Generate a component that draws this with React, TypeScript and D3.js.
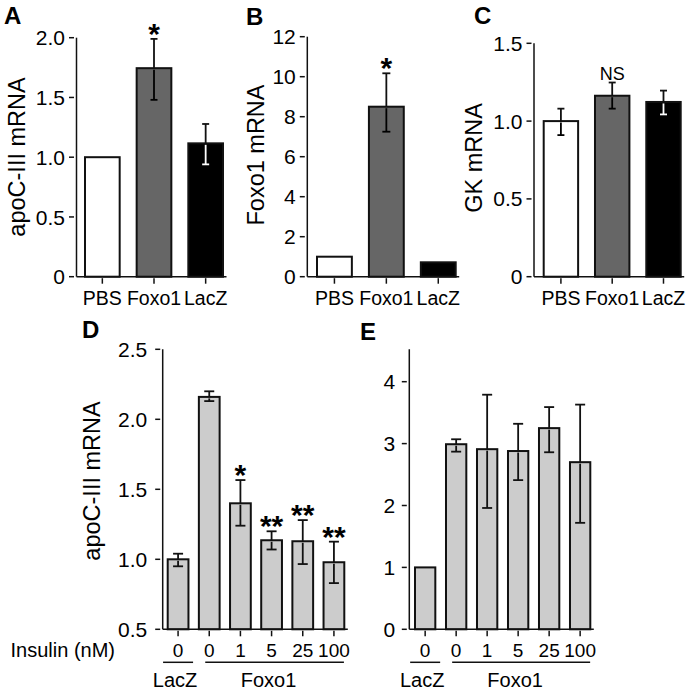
import React from "react";
import * as d3 from "d3";

// ---------- data ----------
const groupsABC = ["PBS", "Foxo1", "LacZ"];
const fillsABC = ["#ffffff", "#666666", "#000000"];
const innerABC = ["#000000", "#000000", "#ffffff"];

const apoMeanA = [1.0, 1.745, 1.116];
const apoErrHiA = [0, 0.245, 0.162];
const apoErrLoA = [0, 0.265, 0.176];
const sigA = ["", "*", ""];
const ticksA = [0, 0.5, 1, 1.5, 2];

const foxoMeanB = [1.0, 8.5, 0.72];
const foxoErrHiB = [0, 1.67, 0];
const foxoErrLoB = [0, 1.25, 0];
const sigB = ["", "*", ""];
const ticksB = [0, 2, 4, 6, 8, 10, 12];

const gkMeanC = [1.0, 1.163, 1.123];
const gkErrHiC = [0.08, 0.085, 0.073];
const gkErrLoC = [0.09, 0.083, 0.08];
const sigC = ["", "NS", ""];
const ticksC = [0, 0.5, 1, 1.5];

const insulinDoses = ["0", "0", "1", "5", "25", "100"];
const vectorGroups = ["LacZ", "Foxo1"];

const apoMeanD = [1.0, 2.16, 1.4, 1.136, 1.129, 0.979];
const apoErrHiD = [0.04, 0.04, 0.166, 0.064, 0.151, 0.147];
const apoErrLoD = [0.05, 0.03, 0.16, 0.066, 0.163, 0.149];
const sigD = ["", "", "*", "**", "**", "**"];
const ticksD = [0.5, 1, 1.5, 2, 2.5];

const meanE = [1.0, 2.99, 2.91, 2.88, 3.25, 2.7];
const errHiE = [0, 0.08, 0.88, 0.44, 0.34, 0.93];
const errLoE = [0, 0.12, 0.95, 0.47, 0.39, 0.98];
const sigE = ["", "", "", "", "", ""];
const ticksE = [0, 1, 2, 3, 4];

const FONT = "'Liberation Sans', Arial, Helvetica, sans-serif";
const fmt1 = (d: number) => (d === 0 ? "0" : d.toFixed(1));
const fmt0 = (d: number) => String(d);

type PanelProps = {
  letter: string;
  letterX: number;
  letterY: number;
  axisX: number;
  xRange: [number, number];
  padInner: number;
  yDomain: [number, number];
  yRange: [number, number];
  axisTopY?: number;
  labels: string[];
  means: number[];
  hi: number[];
  lo: number[];
  fills: string[];
  inner: string[];
  sig: string[];
  ticks: number[];
  fmt: (d: number) => string;
  ylabel?: string;
  ylabelX?: number;
  ylabelY?: number;
  capW: number;
  barStroke: number;
  tickLabelGap: number;
  yLabelOffset: number;
  xFont: number;
};

function Panel(p: PanelProps) {
  const idx = p.labels.map((_, i) => String(i));
  const x = d3.scaleBand().domain(idx).range(p.xRange).paddingInner(p.padInner).paddingOuter(0);
  const y = d3.scaleLinear().domain(p.yDomain).range(p.yRange);
  const axisY = y(p.yDomain[0]);
  const axisTop = p.axisTopY ?? y(p.yDomain[1]);
  const bw = x.bandwidth();
  const xEnd = p.xRange[1] + 2.5;
  return (
    <g fontFamily={FONT}>
      <text x={p.letterX} y={p.letterY} fontSize={24} fontWeight="bold">
        {p.letter}
      </text>
      {/* bars */}
      {p.means.map((m, i) => {
        const x0 = x(String(i))!;
        return (
          <rect
            key={"b" + i}
            x={x0 + p.barStroke / 2}
            y={y(m)}
            width={bw - p.barStroke}
            height={axisY - y(m)}
            fill={p.fills[i]}
            stroke="#111"
            strokeWidth={p.barStroke}
          />
        );
      })}
      {/* error bars */}
      {p.means.map((m, i) => {
        const cx = x(String(i))! + bw / 2;
        const els: any[] = [];
        if (p.hi[i] > 0) {
          const yt = y(m + p.hi[i]);
          els.push(<line key="u" x1={cx} x2={cx} y1={y(m)} y2={yt} stroke="#111" strokeWidth={1.8} />);
          els.push(
            <line key="uc" x1={cx - p.capW / 2} x2={cx + p.capW / 2} y1={yt} y2={yt} stroke="#111" strokeWidth={1.8} />
          );
        }
        if (p.lo[i] > 0) {
          const yb = y(m - p.lo[i]);
          els.push(
            <line key="l" x1={cx} x2={cx} y1={y(m) + 1.5} y2={yb} stroke={p.inner[i]} strokeWidth={1.8} />
          );
          els.push(
            <line key="lc" x1={cx - p.capW / 2} x2={cx + p.capW / 2} y1={yb} y2={yb} stroke={p.inner[i]} strokeWidth={1.8} />
          );
        }
        return <g key={"e" + i}>{els}</g>;
      })}
      {/* significance */}
      {p.sig.map((s, i) => {
        if (!s) return null;
        const cx = x(String(i))! + bw / 2;
        const yt = y(p.means[i] + p.hi[i]);
        const isStar = s.indexOf("*") >= 0;
        return (
          <text
            key={"s" + i}
            x={cx}
            y={isStar ? yt + 5 : yt - 3}
            textAnchor="middle"
            fontSize={isStar ? 30 : 18}
            fontWeight={isStar ? "bold" : "normal"}
          >
            {s}
          </text>
        );
      })}
      {/* axes */}
      <line x1={p.axisX} x2={p.axisX} y1={axisTop} y2={axisY} stroke="#111" strokeWidth={1.5} />
      <line x1={p.axisX} x2={xEnd} y1={axisY} y2={axisY} stroke="#111" strokeWidth={1.5} />
      {p.ticks.map((t) => (
        <g key={"t" + t}>
          <line x1={p.axisX - 7.5} x2={p.axisX - 2.5} y1={y(t)} y2={y(t)} stroke="#111" strokeWidth={1.5} />
          <text x={p.axisX - p.yLabelOffset} y={y(t)} dy="0.36em" textAnchor="end" fontSize={21}>
            {p.fmt(t)}
          </text>
        </g>
      ))}
      {p.labels.map((l, i) => {
        const cx = x(String(i))! + bw / 2;
        return (
          <g key={"x" + i}>
            <line x1={cx} x2={cx} y1={axisY + 1.5} y2={axisY + 7} stroke="#111" strokeWidth={1.5} />
            <text x={cx} y={axisY + p.tickLabelGap} textAnchor="middle" fontSize={p.xFont}>
              {l}
            </text>
          </g>
        );
      })}
      {p.ylabel && (
        <text
          transform={`translate(${p.ylabelX},${p.ylabelY}) rotate(-90)`}
          textAnchor="middle"
          fontSize={23.5}
        >
          {p.ylabel}
        </text>
      )}
    </g>
  );
}

function GroupLabels({ xRange, padInner, axisY, insulin }: { xRange: [number, number]; padInner: number; axisY: number; insulin: boolean }) {
  const idx = insulinDoses.map((_, i) => String(i));
  const x = d3.scaleBand().domain(idx).range(xRange).paddingInner(padInner).paddingOuter(0);
  const bw = x.bandwidth();
  const c = idx.map((k) => x(k)! + bw / 2);
  const lineY = axisY + 33;
  const textY = axisY + 57.5;
  const foxoCenter = d3.mean(c.slice(1))! - 3;
  return (
    <g fontFamily={FONT}>
      {insulin && (
        <text x={115} y={axisY + 27.4} textAnchor="end" fontSize={20}>
          Insulin (nM)
        </text>
      )}
      <line x1={c[0] - 15} x2={c[0] + 15} y1={lineY} y2={lineY} stroke="#111" strokeWidth={1.5} />
      <line x1={c[1] - 4} x2={c[5] + 10} y1={lineY} y2={lineY} stroke="#111" strokeWidth={1.5} />
      <text x={c[0] - 3} y={textY} textAnchor="middle" fontSize={20}>
        {vectorGroups[0]}
      </text>
      <text x={foxoCenter} y={textY} textAnchor="middle" fontSize={20}>
        {vectorGroups[1]}
      </text>
    </g>
  );
}

export default function App() {
  return (
    <div style={{ position: "absolute", left: 0, top: 0 }}>
      <svg width={700} height={696} style={{ display: "block", background: "#fff" }}>
        <Panel
          letter="A"
          letterX={4}
          letterY={24}
          axisX={76.5}
          xRange={[84, 224]}
          padInner={0.29}
          yDomain={[0, 2]}
          yRange={[276.7, 37.7]}
          labels={groupsABC}
          means={apoMeanA}
          hi={apoErrHiA}
          lo={apoErrLoA}
          fills={fillsABC}
          inner={innerABC}
          sig={sigA}
          ticks={ticksA}
          fmt={fmt1}
          ylabel="apoC-III mRNA"
          ylabelX={25}
          ylabelY={157}
          capW={7}
          barStroke={2}
          tickLabelGap={28.5}
          yLabelOffset={11.5}
          xFont={19.5}
        />
        <Panel
          letter="B"
          letterX={246}
          letterY={25}
          axisX={307.3}
          xRange={[316, 456.7]}
          padInner={0.29}
          yDomain={[0, 12]}
          yRange={[276.7, 36.7]}
          labels={groupsABC}
          means={foxoMeanB}
          hi={foxoErrHiB}
          lo={foxoErrLoB}
          fills={fillsABC}
          inner={innerABC}
          sig={sigB}
          ticks={ticksB}
          fmt={fmt0}
          ylabel="Foxo1 mRNA"
          ylabelX={263.5}
          ylabelY={155}
          capW={8}
          barStroke={2}
          tickLabelGap={28.5}
          yLabelOffset={11.5}
          xFont={19.5}
        />
        <Panel
          letter="C"
          letterX={474}
          letterY={23.5}
          axisX={534}
          xRange={[542.7, 681.7]}
          padInner={0.29}
          yDomain={[0, 1.5]}
          yRange={[276.7, 43.3]}
          labels={groupsABC}
          means={gkMeanC}
          hi={gkErrHiC}
          lo={gkErrLoC}
          fills={fillsABC}
          inner={innerABC}
          sig={sigC}
          ticks={ticksC}
          fmt={fmt1}
          ylabel="GK mRNA"
          ylabelX={482}
          ylabelY={158}
          capW={7}
          barStroke={2}
          tickLabelGap={28.5}
          yLabelOffset={11.5}
          xFont={19.5}
        />
        <Panel
          letter="D"
          letterX={82}
          letterY={338}
          axisX={162.7}
          xRange={[166.7, 345.3]}
          padInner={0.27}
          yDomain={[0.5, 2.5]}
          yRange={[629.3, 349.3]}
          labels={insulinDoses}
          means={apoMeanD}
          hi={apoErrHiD}
          lo={apoErrLoD}
          fills={insulinDoses.map(() => "#cccccc")}
          inner={insulinDoses.map(() => "#111111")}
          sig={sigD}
          ticks={ticksD}
          fmt={fmt1}
          ylabel="apoC-III mRNA"
          ylabelX={100}
          ylabelY={481}
          capW={10}
          barStroke={2}
          tickLabelGap={27.4}
          yLabelOffset={15.5}
          xFont={19}
        />
        <GroupLabels xRange={[166.7, 345.3]} padInner={0.27} axisY={629.3} insulin={true} />
        <Panel
          letter="E"
          letterX={360}
          letterY={340}
          axisX={409.3}
          xRange={[414, 591.3]}
          padInner={0.28}
          yDomain={[0, 4]}
          yRange={[629.3, 381.7]}
          axisTopY={349.3}
          labels={insulinDoses}
          means={meanE}
          hi={errHiE}
          lo={errLoE}
          fills={insulinDoses.map(() => "#cccccc")}
          inner={insulinDoses.map(() => "#111111")}
          sig={sigE}
          ticks={ticksE}
          fmt={fmt0}
          capW={10}
          barStroke={2}
          tickLabelGap={27.4}
          yLabelOffset={14}
          xFont={19}
        />
        <GroupLabels xRange={[414, 591.3]} padInner={0.28} axisY={629.3} insulin={false} />
      </svg>
    </div>
  );
}
